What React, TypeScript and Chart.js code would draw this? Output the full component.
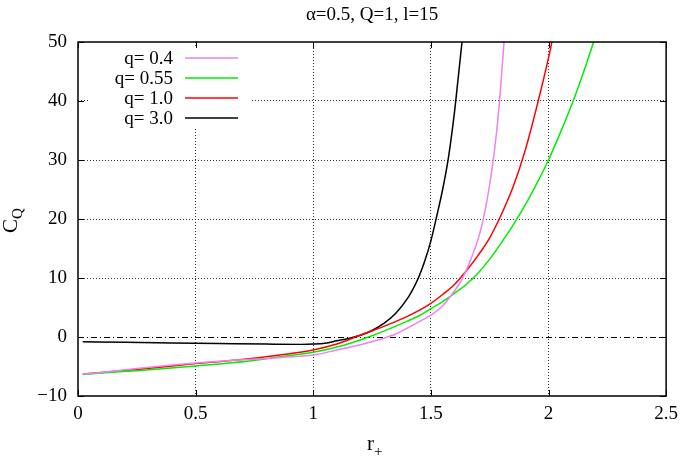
import React, { useEffect, useRef } from 'react';
import { Chart, registerables } from 'chart.js';
Chart.register(...registerables);

const chartTitle = 'α=0.5, Q=1, l=15';
const xTicks = [0, 0.5, 1, 1.5, 2, 2.5];
const yTicks = [-10, 0, 10, 20, 30, 40, 50];
const seriesLabels = ['q= 0.4', 'q= 0.55', 'q= 1.0', 'q= 3.0'];
const seriesColors = ['#ee82ee', '#00ee00', '#ff0000', '#000000'];

const xQ04 = [0.02, 0.1, 0.25, 0.4, 0.5, 0.6, 0.73, 0.85, 1.0, 1.1, 1.2, 1.3, 1.35, 1.4, 1.45, 1.5, 1.55, 1.6, 1.63, 1.66, 1.7, 1.72, 1.74, 1.76, 1.78, 1.795, 1.81, 1.82];
const yQ04 = [-6.3, -6.0, -5.35, -4.75, -4.4, -4.1, -3.8, -3.5, -3.05, -2.2, -1.3, -0.2, 0.5, 1.5, 2.6, 3.7, 5.3, 7.8, 9.6, 12.2, 16.5, 19.5, 23.5, 28.5, 35, 41.5, 49.5, 56];

const xQ055 = [0.02, 0.1, 0.25, 0.5, 0.73, 0.85, 1.0, 1.1, 1.2, 1.235, 1.3, 1.4, 1.45, 1.5, 1.55, 1.6, 1.65, 1.7, 1.75, 1.8, 1.85, 1.9, 1.95, 2.0, 2.05, 2.1, 2.15, 2.2];
const yQ055 = [-6.35, -6.1, -5.7, -4.9, -4.05, -3.4, -2.6, -1.7, -0.5, 0, 1.0, 2.7, 3.6, 4.8, 6.0, 7.4, 8.9, 10.8, 13.2, 16.0, 19.0, 22.3, 26, 30, 34.6, 39.5, 45, 51];

const xQ1 = [0.02, 0.1, 0.25, 0.5, 0.73, 0.85, 1.0, 1.1, 1.18, 1.2, 1.3, 1.4, 1.45, 1.5, 1.55, 1.6, 1.65, 1.7, 1.75, 1.8, 1.85, 1.9, 1.95, 2.0, 2.03];
const yQ1 = [-6.3, -6.0, -5.5, -4.5, -3.7, -3.1, -2.2, -1.2, 0, 0.3, 1.8, 3.5, 4.5, 5.7, 7.2, 8.9, 11.2, 13.8, 16.8, 20.8, 25.5, 31.5, 39.0, 47.3, 53];

const xQ3 = [0.02, 0.2, 0.4, 0.6, 0.8, 0.95, 1.0, 1.05, 1.1, 1.15, 1.2, 1.25, 1.3, 1.35, 1.4, 1.425, 1.45, 1.475, 1.5, 1.525, 1.55, 1.575, 1.6, 1.615, 1.635];
const yQ3 = [-0.8, -0.9, -1.0, -1.1, -1.2, -1.25, -1.2, -1.05, -0.65, -0.25, 0.3, 1.1, 2.3, 4.0, 6.5, 8.2, 10.3, 13.0, 16.3, 20.5, 25.0, 30.5, 38, 43.5, 51];

const seriesX = [xQ04, xQ055, xQ1, xQ3];
const seriesY = [yQ04, yQ055, yQ1, yQ3];

const SERIF = '"Liberation Serif", "Times New Roman", serif';
const FS = 19;

const gnuplotPlugin = {
  id: 'gnuplot',
  beforeDatasetsDraw(chart: any) {
    const { ctx, chartArea: a, scales } = chart;
    const y0 = Math.round(scales.y.getPixelForValue(0)) + 0.5;
    ctx.save();
    ctx.strokeStyle = '#000';
    ctx.lineWidth = 1;
    ctx.setLineDash([6, 3, 1, 3]);
    ctx.beginPath();
    ctx.moveTo(a.left, y0);
    ctx.lineTo(a.right, y0);
    ctx.stroke();
    ctx.setLineDash([]);
    ctx.fillStyle = '#fff';
    ctx.fillRect(a.left + 12, a.top + 5, 160, 82);
    ctx.restore();
  },
  afterDatasetsDraw(chart: any) {
    const { ctx, chartArea: a, scales } = chart;
    ctx.save();
    ctx.strokeStyle = '#000';
    ctx.lineWidth = 1.5;
    ctx.strokeRect(a.left, a.top, a.right - a.left, a.bottom - a.top);
    ctx.lineWidth = 1;
    const tl = 6;
    ctx.beginPath();
    xTicks.forEach((v) => {
      const px = Math.round(scales.x.getPixelForValue(v)) + 0.5;
      ctx.moveTo(px, a.bottom); ctx.lineTo(px, a.bottom - tl);
      ctx.moveTo(px, a.top); ctx.lineTo(px, a.top + tl);
    });
    yTicks.forEach((v) => {
      const py = Math.round(scales.y.getPixelForValue(v)) + 0.5;
      ctx.moveTo(a.left, py); ctx.lineTo(a.left + tl, py);
      ctx.moveTo(a.right, py); ctx.lineTo(a.right - tl, py);
    });
    ctx.stroke();
    ctx.font = `${FS}px ${SERIF}`;
    ctx.textAlign = 'right';
    ctx.textBaseline = 'middle';
    seriesLabels.forEach((lab, i) => {
      const y = a.top + 16 + 20 * i;
      ctx.fillStyle = '#000';
      ctx.fillText(lab, a.left + 95, y + 1);
      ctx.strokeStyle = seriesColors[i];
      ctx.lineWidth = 1.5;
      ctx.beginPath();
      ctx.moveTo(a.left + 107, y);
      ctx.lineTo(a.left + 160, y);
      ctx.stroke();
    });
    const cx = (a.left + a.right) / 2;
    ctx.fillStyle = '#000';
    ctx.textAlign = 'center';
    ctx.font = `${FS}px ${SERIF}`;
    ctx.fillText(chartTitle, cx, 15);
    ctx.font = `21px ${SERIF}`;
    ctx.textAlign = 'right';
    ctx.fillText('r', cx + 2, 444);
    ctx.font = `15px ${SERIF}`;
    ctx.textAlign = 'left';
    ctx.fillText('+', cx + 2, 452);
    ctx.translate(11, (a.top + a.bottom) / 2 + 4);
    ctx.rotate(-Math.PI / 2);
    ctx.font = `21px ${SERIF}`;
    ctx.textAlign = 'right';
    ctx.fillText('C', 4, 0);
    ctx.font = `15px ${SERIF}`;
    ctx.textAlign = 'left';
    ctx.fillText('Q', 4, 7);
    ctx.restore();
  },
};

export default function App() {
  const ref = useRef<HTMLCanvasElement | null>(null);
  useEffect(() => {
    if (!ref.current) return;
    const datasets = seriesLabels.map((lab, i) => ({
      label: lab,
      data: seriesX[i].map((x, j) => ({ x, y: seriesY[i][j] })),
      borderColor: seriesColors[i],
      backgroundColor: seriesColors[i],
      borderWidth: 1.5,
      pointRadius: 0,
      fill: false,
      cubicInterpolationMode: 'monotone' as const,
    }));
    const hide = (v: number, list: number[]) => list.includes(v);
    const chart = new Chart(ref.current, {
      type: 'line',
      data: { datasets },
      options: {
        animation: false,
        responsive: false,
        maintainAspectRatio: false,
        layout: { padding: { left: 0, top: 42, right: 16, bottom: 0 } },
        plugins: { legend: { display: false }, title: { display: false }, tooltip: { enabled: false } },
        scales: {
          x: {
            type: 'linear',
            min: 0,
            max: 2.5,
            afterFit: (s: any) => { s.height = 65; },
            afterBuildTicks: (s: any) => { s.ticks = xTicks.map((v) => ({ value: v })); },
            ticks: {
              color: '#000',
              font: { family: SERIF, size: FS },
              padding: 7,
              maxRotation: 0,
              autoSkip: false,
              callback: (v: any) => String(v),
            },
            grid: {
              drawTicks: false,
              lineWidth: 1,
              color: (c: any) => (c.tick && hide(c.tick.value, [0, 2.5]) ? 'rgba(0,0,0,0)' : '#333'),
            },
            border: { display: false, dash: [1, 2] },
          },
          y: {
            type: 'linear',
            min: -10,
            max: 50,
            afterFit: (s: any) => { s.width = 78; },
            afterBuildTicks: (s: any) => { s.ticks = yTicks.map((v) => ({ value: v })); },
            ticks: {
              color: '#000',
              font: { family: SERIF, size: FS },
              padding: 11,
              autoSkip: false,
              callback: (v: any) => (v < 0 ? '\u2212' + Math.abs(v) : String(v)),
            },
            grid: {
              drawTicks: false,
              lineWidth: 1,
              color: (c: any) => (c.tick && hide(c.tick.value, [-10, 0, 50]) ? 'rgba(0,0,0,0)' : '#333'),
            },
            border: { display: false, dash: [1, 2] },
          },
        },
      },
      plugins: [gnuplotPlugin],
    });
    return () => chart.destroy();
  }, []);
  return (
    <div style={{ position: 'absolute', left: 0, top: 0, width: 685, height: 461, background: '#fff' }}>
      <canvas ref={ref} width={685} height={461} style={{ display: 'block', width: 685, height: 461 }} />
    </div>
  );
}
